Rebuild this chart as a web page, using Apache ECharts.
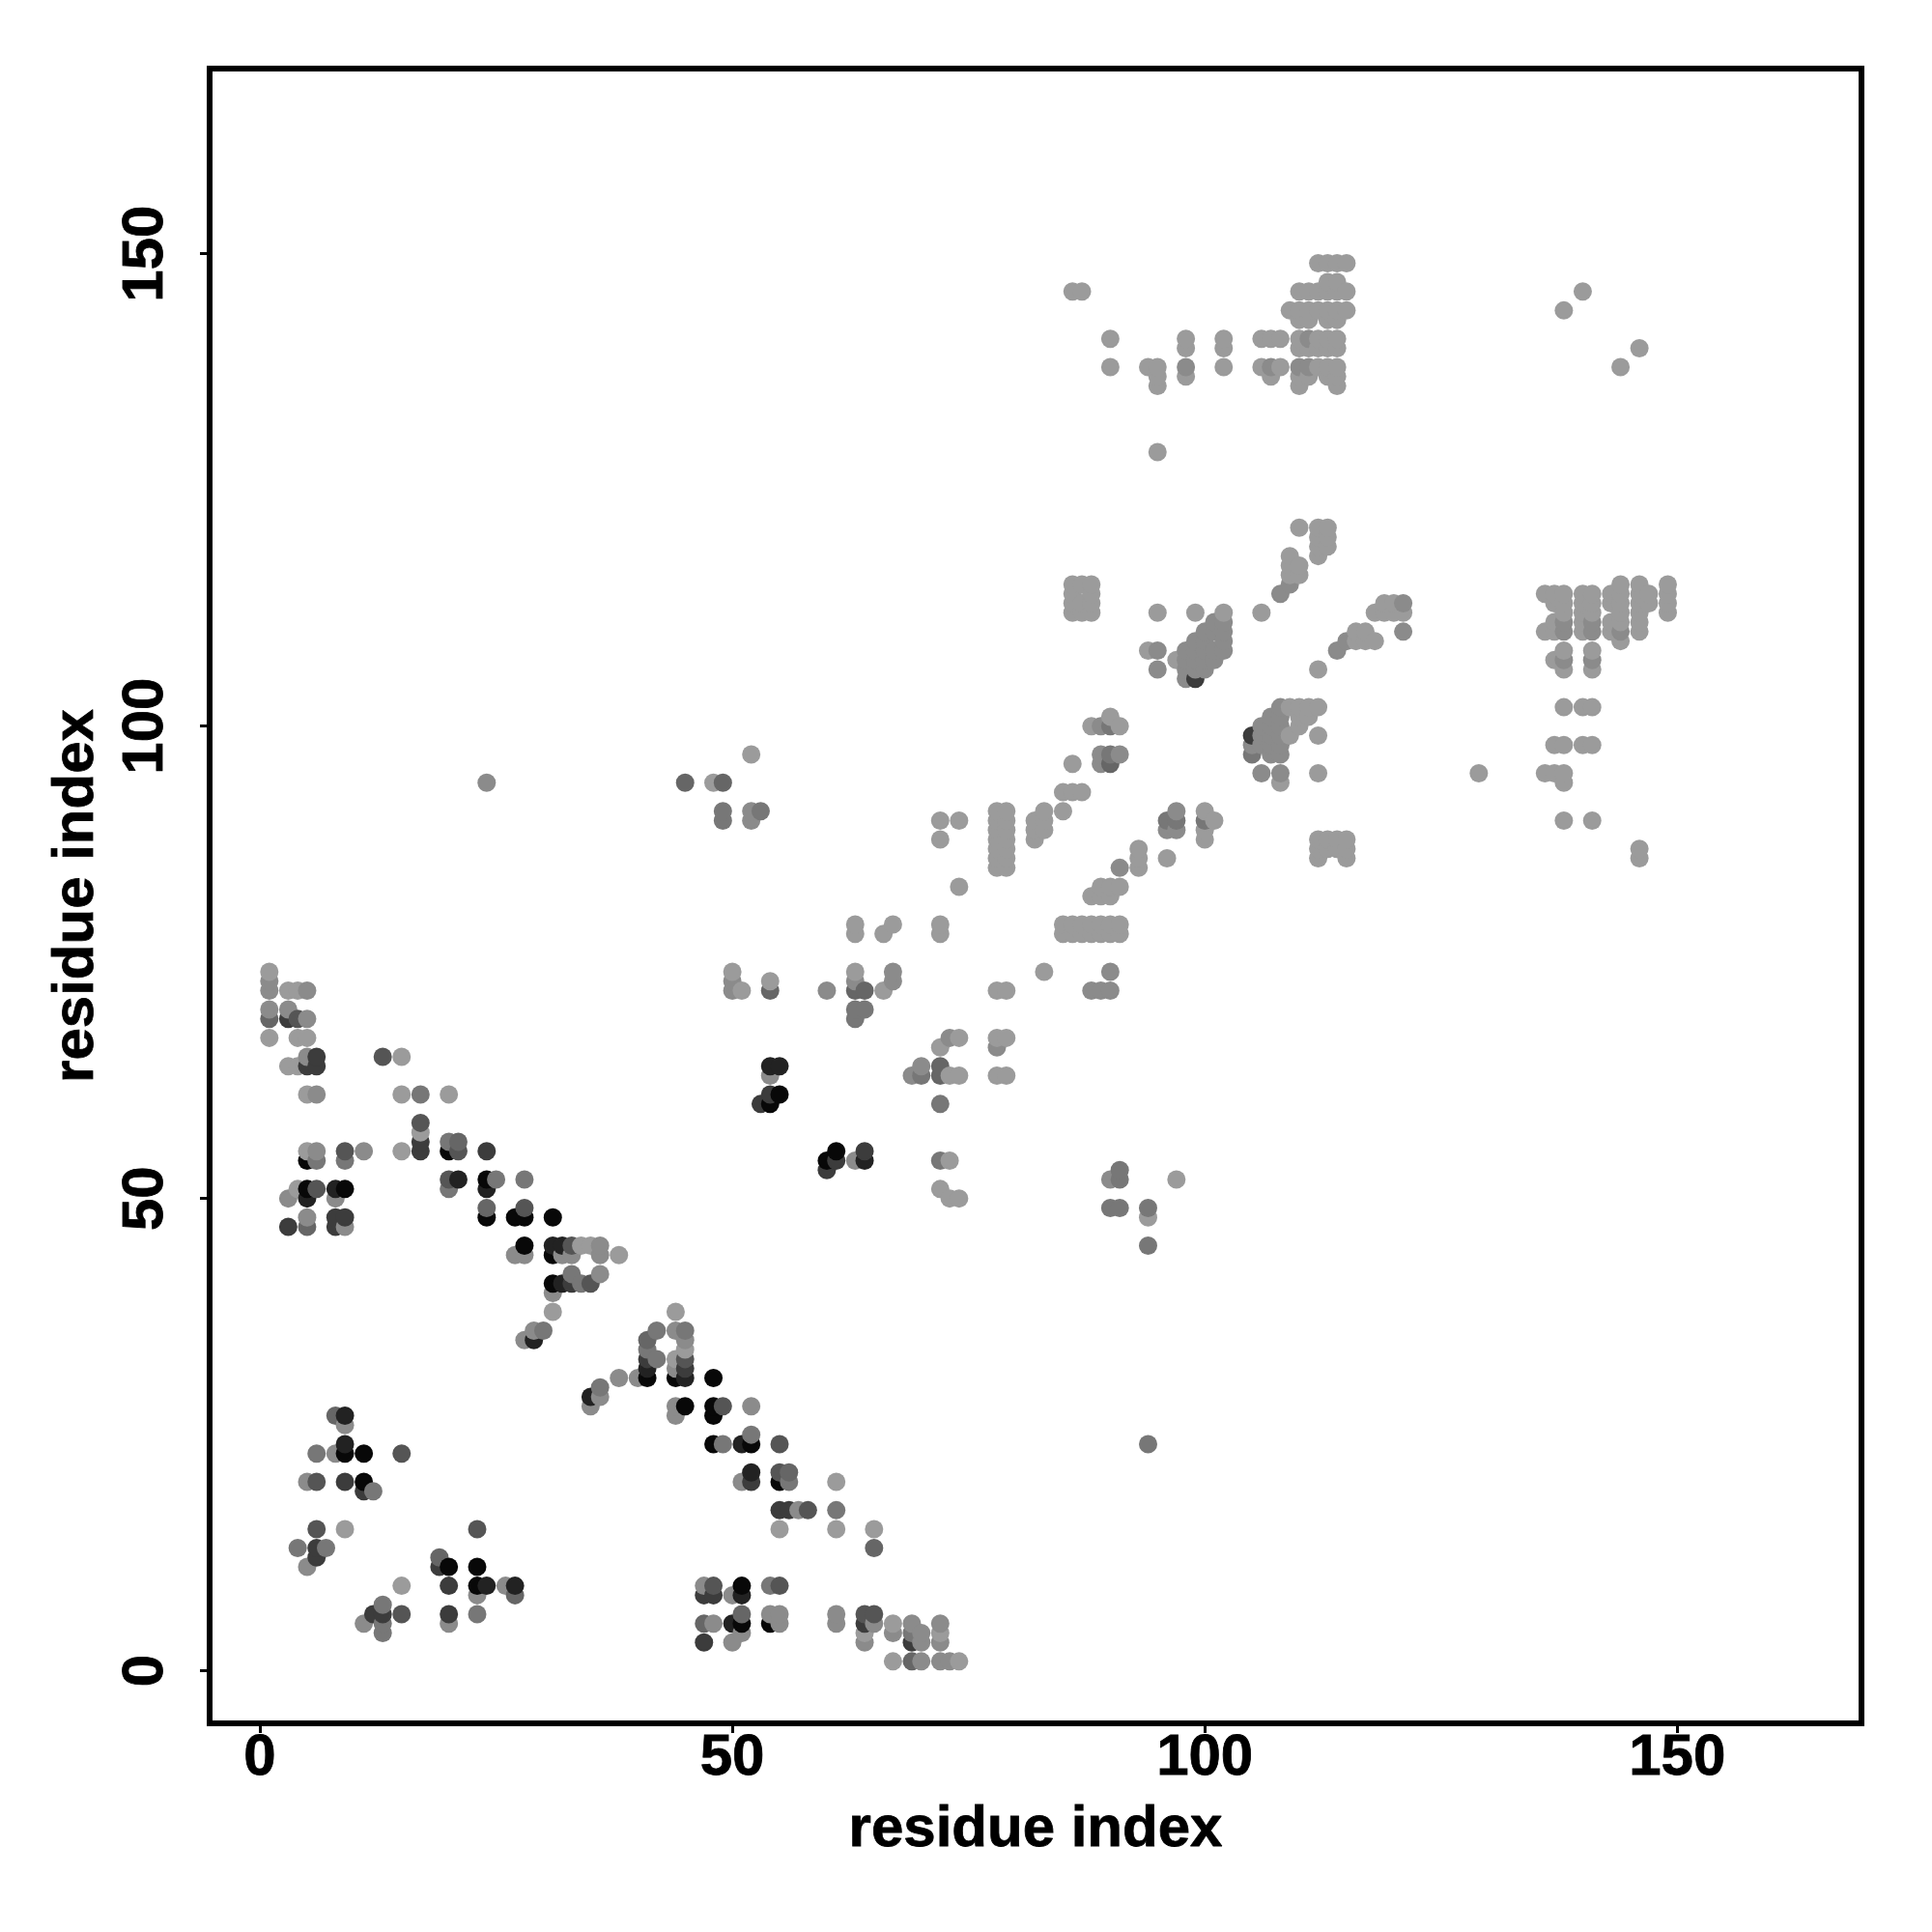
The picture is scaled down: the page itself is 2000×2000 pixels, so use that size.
<!DOCTYPE html>
<html><head><meta charset="utf-8">
<style>html,body{margin:0;padding:0;background:#fff}#c{width:2000px;height:2000px}</style>
<script src="https://cdn.jsdelivr.net/npm/echarts@6/dist/echarts.min.js"></script>
</head><body><div id="c"></div>
<script>
const tickValues = [0, 50, 100, 150];
const axisTitle = 'residue index';

// contacts [residue x, residue y], one list for each grey level
const shadeL = [[1,74],[1,67],[3,72],[3,64],[4,72],[4,67],[4,64],[4,51],[5,67],[5,61],[5,55],[15,65],[15,61],[15,55],[17,57],[20,61],[34,45],[35,45],[38,44],[31,38],[44,38],[15,9],[9,15],[44,33],[45,34],[61,20],[61,15],[65,15],[67,5],[67,1],[74,1],[72,4],[64,4],[55,15],
[50,74],[51,72],[54,73],[63,79],[63,78],[66,78],[67,79],[72,79],[72,78],[63,74],[66,72],[78,72],[79,72],[83,74],[74,83],[74,63],[73,63],[73,50],[74,50],[72,51],[79,67],[78,67],[79,63],[78,63],[74,67],[72,66],[73,54],[85,79],[86,79],[87,79],[88,79],[89,79],[90,79],[91,79],[85,78],[86,78],[87,78],[88,78],[89,78],[90,78],[91,78],[88,82],[89,82],[90,82],[89,83],[90,83],[91,83],
[78,91],[79,91],[78,90],[79,90],[78,89],[79,89],[78,88],[79,88],[78,87],[79,87],[78,86],[79,86],[78,85],[79,85],[82,90],[82,89],[82,88],[83,91],[83,90],[83,89],[85,91],[85,93],[86,93],[87,93],[86,96],[88,100],[89,100],[90,101],[91,100],[93,87],[93,86],[93,85],[96,86],[100,91],[100,89],[100,88],[101,90],[94,108],[97,107],[97,52],[94,48],[52,97],[72,90],[74,90],[72,88],[48,94],
[112,88],[112,87],[112,86],[113,88],[113,87],[114,88],[114,87],[115,88],[115,87],[115,86],[112,99],[112,95],[108,94],[129,95],[136,95],[137,95],[138,94],[138,95],[138,90],[141,90],[137,98],[138,98],[140,98],[141,98],[138,102],[140,102],[141,102],[146,87],[146,86],[111,101],[110,101],[110,100],[109,102],[110,102],[111,102],[112,102],[109,99],
[95,112],[99,112],[102,112],[106,112],[86,115],[87,115],[88,115],[86,113],[87,113],[88,113],[87,112],[88,112],[86,114],[88,114],[86,112],[110,121],[112,121],[113,121],[112,120],[113,120],[112,119],[113,119],[112,118],[109,118],[109,117],[110,117],[109,116],[110,116],[112,106],[116,110],[117,110],[116,109],[117,109],[118,109],[118,112],[119,113],[119,112],[120,112],[120,113],[121,112],
[144,115],[146,115],[149,115],[136,114],[137,114],[138,114],[140,114],[141,114],[143,114],[144,114],[146,114],[147,114],[149,114],[137,113],[138,113],[140,113],[141,113],[143,113],[144,113],[146,113],[147,113],[149,113],[138,112],[140,112],[141,112],[144,112],[146,112],[149,112],[137,111],[140,111],[143,111],[144,111],[146,111],[136,110],[137,110],[140,110],[143,110],[146,110],[144,109],[138,108],[141,108],[137,107],[138,106],[141,106],
[112,149],[113,149],[114,149],[115,149],[113,147],[114,147],[86,146],[87,146],[110,146],[111,146],[112,146],[113,146],[114,146],[115,146],[140,146],[109,144],[110,144],[111,144],[112,144],[113,144],[114,144],[115,144],[138,144],[110,143],[111,143],[113,143],[114,143],[90,141],[98,140],[102,140],[106,141],[107,141],[108,141],[110,141],[112,141],[113,141],[114,141],[102,141],[98,141],[110,140],[111,140],[112,140],[113,140],[114,140],[146,140],[90,138],[94,138],[95,138],[102,138],[106,138],[108,138],[112,138],[113,138],[114,138],[144,138],[95,137],[98,137],[107,137],[110,137],[111,137],[113,137],[114,137],[95,136],[110,136],[114,136],[95,129]];

const shadeM = [[1,73],[1,72],[1,70],[3,70],[3,50],[5,72],[5,69],[5,65],[5,48],[6,61],[6,55],[8,50],[9,47],[11,55],[27,44],[28,44],[31,40],[32,44],[33,44],[36,45],[36,44],[36,42],[29,36],[28,35],[44,36],[38,31],[40,31],[36,29],[35,28],[44,32],[44,28],[44,27],[45,35],[8,23],[9,26],[5,20],[5,11],[11,5],[20,5],[23,8],[26,9],[47,9],[48,5],[50,8],[50,3],[51,20],[51,4],[52,28],[55,6],[55,5],[54,6],[57,17],[61,6],[61,5],[64,3],[65,5],[67,4],[69,5],[70,4],[70,3],[70,1],[72,5],[72,3],[72,1],[73,1],
[50,73],[50,72],[63,73],[60,72],[67,74],[67,73],[88,72],[90,74],[90,72],[73,67],[70,64],[69,63],[78,66],[54,63],[63,54],[90,52],[24,94],[52,91],[52,90],[95,108],[95,106],[98,108],[98,107],[98,106],[98,105],[99,108],[99,107],[99,106],[100,110],[100,108],[100,107],[100,106],[101,111],[101,110],[101,108],[101,107],[102,111],[102,110],[102,109],[102,108],[99,109],[100,109],[105,98],[106,100],[106,99],[106,98],[107,101],[107,100],[107,99],[107,98],[107,97],[108,102],[108,101],[108,100],[108,99],[108,98],[108,97],[106,95],[108,95],[108,114],[109,115],[114,108],[115,109],[121,113],[121,110],[89,100],[89,97],[89,96],[91,97],[96,89],[97,89],[96,90],[97,91],[100,90],[91,85],[138,111],[138,110],[138,107],[141,111],[141,110],[141,107],[144,110],[110,138],[111,138],[98,138],[107,138],[111,141],[89,72]];

const shadeN = [[9,55],[9,54],[6,54],[13,5],[6,23],[4,13],[7,13],[12,19],[13,7],[13,4],[23,6],[15,23],[17,61],[20,56],[20,51],[25,52],[28,52],[33,42],[34,41],[36,30],[30,36],[42,36],[42,33],[41,34],[45,36],[49,28],[49,24],[52,25],[54,9],[61,17],[56,20],[69,4],[72,54],[72,60],[70,63],[63,70],[63,69],[64,70],[90,49],[91,53],[91,52],[91,49],[94,49],[94,45],[94,24],[49,91],[49,90],[53,91],[105,97],[90,100],[90,97],[97,90],[100,90],[96,90]];

const shadeO = [[1,69],[5,47],[8,27],[13,65],[19,12],[21,56],[24,49],[27,8],[41,35],[47,5],[49,94],[45,94],[51,6],[56,21],[56,17],[65,13],[69,1],[72,64],[72,63],[63,72],[64,72],[90,96],[54,72]];

const shadeD = [[4,69],[6,51],[9,55],[13,65],[15,6],[15,23],[17,58],[20,52],[21,55],[23,15],[28,49],[33,45],[35,41],[45,33],[48,9],[49,28],[55,24],[55,21],[55,9],[58,17],[64,6],[65,6],[6,15],[6,20]];

const shadeE = [[3,69],[3,47],[5,64],[6,65],[6,64],[8,48],[8,47],[9,48],[11,19],[17,56],[17,55],[24,55],[33,41],[41,33],[45,32],[47,8],[47,3],[48,8],[52,20],[53,60],[54,61],[60,53],[61,54],[64,55],[64,5],[69,3],[6,13],[6,12],[9,20],[12,6],[13,6],[19,11],[20,9],[20,6],[55,17],[56,17],[105,99],[99,105]];

const shadeF = [[8,51],[5,50],[21,52],[24,51],[32,45],[32,41],[31,45],[29,35],[35,29],[41,32],[45,31],[9,27],[9,24],[24,9],[27,9],[51,24],[51,8],[50,5],[52,21],[54,64],[55,64],[64,54]];

const shadeK = [[5,54],[5,51],[9,51],[20,55],[24,52],[24,48],[27,48],[28,48],[28,45],[31,48],[31,44],[31,41],[41,31],[44,31],[45,28],[48,31],[48,28],[48,27],[48,24],[52,24],[55,20],[51,9],[51,5],[54,5],[9,23],[11,23],[11,20],[20,11],[23,11],[23,9],[54,60],[55,61],[60,54],[61,55]];

const shadeColors = {L:'#9b9b9b',M:'#8b8b8b',N:'#777777',O:'#666666',D:'#555555',E:'#3c3c3c',F:'#222222',K:'#080808'};
const shadeLists = {L:shadeL,M:shadeM,N:shadeN,O:shadeO,D:shadeD,E:shadeE,F:shadeF,K:shadeK};

// one colour per contact: darker lists overwrite; drawn in order of x, then y
const seen = new Map();
for (const k of ['L','M','N','O','D','E','F','K']) {
  for (const p of shadeLists[k]) seen.set(p[0]+','+p[1], {value:p, itemStyle:{color:shadeColors[k],opacity:1}});
}
const points = [...seen.values()].sort((a,b)=>a.value[0]-b.value[0]||a.value[1]-b.value[1]);

const font = '"Liberation Sans"';
const baseAxis = {
  type:'value', name:axisTitle, nameLocation:'middle',
  nameTextStyle:{fontFamily:font,fontWeight:'bold',fontSize:60,color:'#000',textBorderColor:'#000',textBorderWidth:0.8},
  axisLine:{show:false,onZero:false}, splitLine:{show:false},
  axisTick:{show:true,length:10,inside:false,customValues:tickValues,lineStyle:{color:'#000',width:3}},
};
const labelStyle = {show:true,customValues:tickValues,fontFamily:font,fontWeight:'bold',fontSize:60,color:'#000',textBorderColor:'#000',textBorderWidth:0.8};

const chart = echarts.init(document.getElementById('c'),null,{renderer:'canvas'});
chart.setOption({
  animation:false, backgroundColor:'#fff',
  grid:{left:217,right:73,top:71,bottom:216,show:true,borderColor:'#000',borderWidth:6,backgroundColor:'transparent'},
  xAxis:Object.assign({},baseAxis,{min:-5.32,max:169.5,nameGap:80,axisLabel:Object.assign({},labelStyle,{margin:6,formatter:v=>String(Math.round(v))})}),
  yAxis:Object.assign({},baseAxis,{min:-5.56,max:169.6,nameGap:108,axisLabel:Object.assign({},labelStyle,{margin:36,rotate:90,formatter:v=>String(Math.round(v))})}),
  series:[{type:'scatter',symbol:'circle',symbolSize:19,itemStyle:{opacity:1},data:points,silent:true,clip:true,large:false,progressive:0}]
});
</script></body></html>
